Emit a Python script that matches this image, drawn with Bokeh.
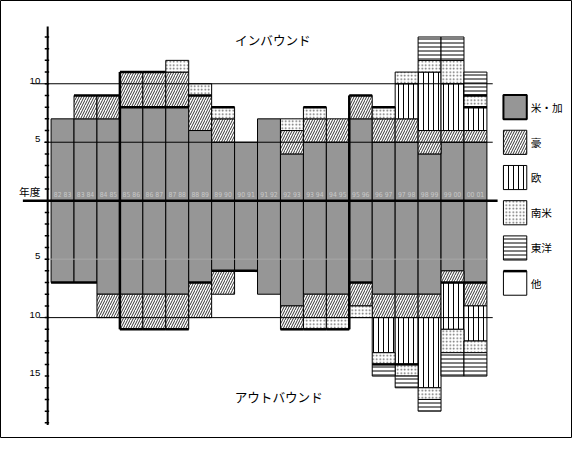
from bokeh.plotting import figure
from bokeh.models import ColumnDataSource, Range1d
from bokeh.embed import file_html
from bokeh.resources import INLINE
from bokeh.core.properties import value

# ---------------- data ----------------
years = ["82 83", "83 84", "84 85", "85 86", "86 87", "87 88", "88 89", "89 90",
         "90 91", "91 92", "92 93", "93 94", "94 95", "95 96", "96 97", "97 98",
         "98 99", "99 00", "00 01"]
series = ["米・加", "豪", "欧", "南米", "東洋", "他"]

in_usca = [7, 7, 7, 8, 8, 8, 6, 5, 5, 7, 4, 5, 5, 7, 5, 5, 4, 5, 5]
in_aus = [0, 2, 2, 3, 3, 3, 3, 2, 0, 0, 2, 2, 2, 2, 2, 2, 2, 1, 1]
in_eur = [0, 0, 0, 0, 0, 0, 0, 0, 0, 0, 0, 0, 0, 0, 0, 3, 5, 4, 2]
in_sam = [0, 0, 0, 0, 0, 1, 1, 1, 0, 0, 1, 1, 0, 0, 1, 1, 1, 2, 1]
in_asia = [0, 0, 0, 0, 0, 0, 0, 0, 0, 0, 0, 0, 0, 0, 0, 0, 2, 2, 2]

out_usca = [7, 7, 8, 8, 8, 8, 7, 6, 6, 8, 9, 8, 8, 7, 8, 8, 8, 6, 7]
out_aus = [0, 0, 2, 3, 3, 3, 3, 2, 0, 0, 2, 2, 2, 2, 2, 2, 2, 1, 2]
out_eur = [0, 0, 0, 0, 0, 0, 0, 0, 0, 0, 0, 0, 0, 0, 3, 4, 6, 4, 3]
out_sam = [0, 0, 0, 0, 0, 0, 0, 0, 0, 0, 0, 1, 1, 1, 1, 1, 1, 2, 1]
out_asia = [0, 0, 0, 0, 0, 0, 0, 0, 0, 0, 0, 0, 0, 0, 1, 1, 1, 2, 2]

# levels where the "他" boundary is drawn as a heavy line
in_thick = [[], [9], [9], [8, 11], [8, 11], [8], [9], [8], [], [], [], [8], [], [9], [8],
            [], [], [], [8, 9]]
out_thick = [[7], [7], [], [11], [11], [11], [7], [6], [6], [], [11], [11], [11], [7],
             [14], [14], [], [7], [7]]
thick_edges = ["85 86", "95 96"]

major_ticks = [10, 5, -5, -10, -15]
tick_labels = ["10", "5", "5", "10", "15"]
title_in = "インバウンド"
title_out = "アウトバウンド"
year_label = "年度"

# ---------------- layout constants (reference picture pixels) ----------------
W, H = 572, 438               # figure size (fits the window with its 8px margin)
RW, RH = 588, 454             # reference picture size, scaled into the figure
X0, BW = 52.0, 23.58          # left edge of first bar, bar width in px
Y0, UNIT = 207.5, 12.12       # zero line y, px per unit
S = W / RW                    # text scale


def px(xp):
    return (xp - X0) / BW


def py(yp):
    return (Y0 - yp) / UNIT


def fs(size):
    return "%.1fpx" % (size * S)


p = figure(width=W, height=H, output_backend="svg", toolbar_location=None,
           x_range=Range1d(px(0), px(RW)), y_range=Range1d(py(RH), py(0)),
           x_axis_type=None, y_axis_type=None, min_border=0)
p.grid.visible = False
p.outline_line_color = "black"
p.outline_line_width = 1
p.background_fill_color = "white"
p.border_fill_color = "white"

styles = [
    dict(fill_color="#969696"),
    dict(fill_color="white", hatch_pattern="/", hatch_scale=5, hatch_weight=1, hatch_color="#333333"),
    dict(fill_color="white", hatch_pattern="|", hatch_scale=5, hatch_weight=1, hatch_color="black"),
    dict(fill_color="white", hatch_pattern=".", hatch_scale=3.5, hatch_weight=1, hatch_color="#666666"),
    dict(fill_color="white", hatch_pattern="-", hatch_scale=4, hatch_weight=1, hatch_color="black"),
    dict(fill_color="white"),
]

inbound = [in_usca, in_aus, in_eur, in_sam, in_asia]
outbound = [out_usca, out_aus, out_eur, out_sam, out_asia]


def draw_stack(groups, sign):
    cum = [0] * len(years)
    for k, vals in enumerate(groups):
        xs, bs, ts = [], [], []
        for i, v in enumerate(vals):
            if v > 0:
                xs.append(i + 0.5)
                bs.append(sign * cum[i])
                ts.append(sign * (cum[i] + v))
            cum[i] += v
        src = ColumnDataSource(dict(x=xs, b=bs, t=ts))
        p.vbar(x="x", width=1, bottom="b", top="t", source=src,
               line_color="black", line_width=1, **styles[k])
    return cum


tot_in = draw_stack(inbound, 1)
tot_out = draw_stack(outbound, -1)

# year labels inside the bars
p.text(x=[i + 0.5 for i in range(len(years))], y=[py(202)] * len(years), text=years,
       text_font=value("DejaVu Sans Condensed"), text_font_size=fs(7), text_color="#c8c8c8",
       text_align="center", text_baseline="middle")

# reference lines
p.segment(x0=[px(45)], y0=[-5], x1=[px(500)], y1=[-5], line_color="#a8a8a8", line_width=1)
p.segment(x0=[px(45), px(33), px(40)], y0=[5, 10, -10], x1=[px(506)] * 3, y1=[5, 10, -10],
          line_color="black", line_width=1)
p.segment(x0=[px(23)], y0=[0], x1=[px(511)], y1=[0], line_color="black", line_width=2.5)

# heavy boundary lines
tx0, tx1, ty = [], [], []
for i, lv in enumerate(in_thick):
    for v in lv:
        tx0.append(i); tx1.append(i + 1); ty.append(v)
for i, lv in enumerate(out_thick):
    for v in lv:
        tx0.append(i); tx1.append(i + 1); ty.append(-v)
p.segment(x0=tx0, y0=ty, x1=tx1, y1=ty, line_color="black", line_width=2.5)
ex, ey0, ey1 = [], [], []
for name in thick_edges:
    i = years.index(name)
    ex.append(i); ey0.append(-max(tot_out[i], tot_out[i - 1])); ey1.append(max(tot_in[i], tot_in[i - 1]))
p.segment(x0=ex, y0=ey0, x1=ex, y1=ey1, line_color="black", line_width=2.5)

# y axis
p.segment(x0=[px(48.5)], y0=[py(27)], x1=[px(48.5)], y1=[py(440)], line_color="black", line_width=2)
ticks = list(range(-19, 15))
p.segment(x0=[px(45.5)] * len(ticks), y0=ticks, x1=[px(50)] * len(ticks), y1=ticks,
          line_color="black", line_width=1.5)
p.text(x=[px(41)] * len(major_ticks), y=major_ticks, text=tick_labels, y_offset=-3,
       text_font=value("Liberation Sans"), text_font_size=fs(10), text_color="black",
       text_align="right", text_baseline="middle")
p.text(x=[px(41)], y=[py(206)], text=[year_label], text_font=value("Noto Sans CJK JP"),
       text_font_size=fs(11), text_align="right", text_baseline="bottom")

# titles
p.text(x=[px(280)], y=[py(40)], text=[title_in], text_font=value("Noto Sans CJK JP"),
       text_font_size=fs(13), text_align="center", text_baseline="middle")
p.text(x=[px(286)], y=[py(410)], text=[title_out], text_font=value("Noto Sans CJK JP"),
       text_font_size=fs(13), text_align="center", text_baseline="middle")

# legend (hand-drawn)
for k, name in enumerate(series):
    top = 98 + 36.5 * k
    src = ColumnDataSource(dict(l=[px(517)], r=[px(541)], t=[py(top)], b=[py(top + 25)]))
    p.quad(left="l", right="r", top="t", bottom="b", source=src, line_color="black",
           line_width=2 if k == 0 else 1, **styles[k])
    if k == 5:
        p.segment(x0=[px(517)], y0=[py(top)], x1=[px(541)], y1=[py(top)], line_color="black",
                  line_width=2.5)
    p.text(x=[px(545)], y=[py(top + 12.5)], text=[name], text_font=value("Noto Sans CJK JP"),
           text_font_size=fs(11), text_align="left", text_baseline="middle")

open("out.html", "w").write(file_html(p, INLINE))
